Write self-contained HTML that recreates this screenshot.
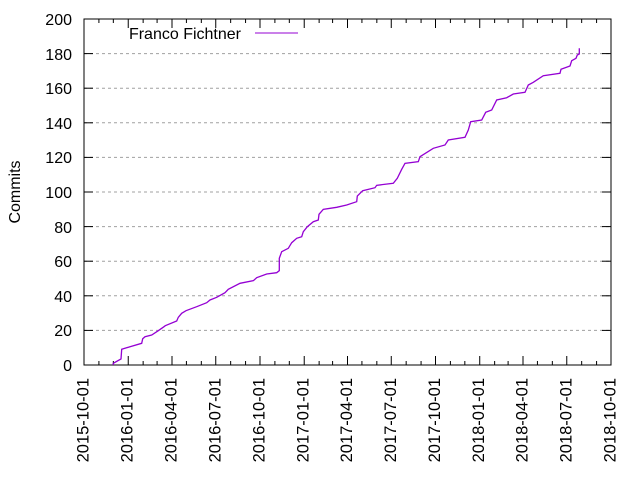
<!DOCTYPE html>
<html><head><meta charset="utf-8"><style>body{margin:0;background:#fff}svg{display:block}text{font-family:"Liberation Sans",sans-serif;font-size:16px;fill:#000}</style></head><body>
<svg width="640" height="480" viewBox="0 0 640 480">
<g stroke="#a0a0a0" stroke-dasharray="3,3" stroke-width="1">
<line x1="84" x2="611" y1="330.4" y2="330.4"/><line x1="84" x2="611" y1="295.8" y2="295.8"/><line x1="84" x2="611" y1="261.2" y2="261.2"/><line x1="84" x2="611" y1="226.6" y2="226.6"/><line x1="84" x2="611" y1="192" y2="192"/><line x1="84" x2="611" y1="157.4" y2="157.4"/><line x1="84" x2="611" y1="122.8" y2="122.8"/><line x1="84" x2="611" y1="88.2" y2="88.2"/><line x1="84" x2="611" y1="53.6" y2="53.6"/>
</g>
<rect x="84" y="19" width="527" height="346" fill="none" stroke="#000" stroke-width="1"/>
<g stroke="#000" stroke-width="1" id="ticks"></g>
<g text-anchor="end">
<text x="72" y="371">0</text><text x="72" y="336">20</text><text x="72" y="302">40</text><text x="72" y="267">60</text><text x="72" y="233">80</text><text x="72" y="198">100</text><text x="72" y="163">120</text><text x="72" y="129">140</text><text x="72" y="94">160</text><text x="72" y="60">180</text><text x="72" y="25">200</text>
</g>
<g id="xl" text-anchor="end"></g>
<text transform="translate(20,192) rotate(-90)" text-anchor="middle">Commits</text>
<text x="241" y="39" text-anchor="end">Franco Fichtner</text>
<line x1="255" x2="298" y1="33" y2="33" stroke="#9400d3" stroke-width="1"/>
<polyline fill="none" stroke="#9400d3" stroke-width="1.3" points="113.3,365 113.3,363.3 121,359 121.7,349.3 130,346.7 141.7,343.3 142.7,338.7 145,336.7 151.7,335 158.3,330.7 164,326.7 165.3,325.7 176.7,321 178.3,317.3 181.7,313.3 186,310.7 196.7,306.7 206.7,302.7 210,300 216.7,297.3 225,292.7 228.3,289.3 240,283.3 253.3,280.7 256.7,277.7 266.7,274 276.7,272.7 279.3,270.7 279.3,258.3 281.7,251.7 288.3,248.3 291.7,242.7 296.7,238.3 301.7,236.7 303.3,231.7 307.3,226.7 313.3,221.7 318.3,220 319,214.3 323.3,209.3 336.7,207.3 346.7,205 356.7,201.7 357.3,196 362.7,190.7 375,187.7 376.7,185.3 393.3,183.3 397.3,178.3 401.7,169.3 405,163.3 418.3,161.7 420,156.7 433.3,148.3 445,145 448.3,140 465,137.3 468.3,130 470.7,121.7 481.7,120 485.7,112.3 491.7,110 496.7,100 506.7,97.7 513.3,94 525,92.3 528.3,85 533.3,82.3 543.3,75.7 560,73.3 561,69.3 570,66 571.7,60.7 576,58.3 577.3,55 579.3,54 579.3,48.3"/>
</svg>
<script>
var ns="http://www.w3.org/2000/svg",t=document.getElementById("ticks"),xl=document.getElementById("xl");
var labels=["2015-10-01","2016-01-01","2016-04-01","2016-07-01","2016-10-01","2017-01-01","2017-04-01","2017-07-01","2017-10-01","2018-01-01","2018-04-01","2018-07-01","2018-10-01"];
var d0=Date.UTC(2015,9,1),ppd=527/(Date.UTC(2018,9,1)-d0)*864e5;
function X(y,m){return 84+(Date.UTC(y,m,1)-d0)/864e5*ppd;}
for(var i=0;i<=36;i++){var y=2015+Math.floor((9+i)/12),m=(9+i)%12,x=X(y,m),len=(i%3==0)?9:4;
 [[365,365-len],[19,19+len]].forEach(function(p){var l=document.createElementNS(ns,"line");l.setAttribute("x1",x);l.setAttribute("x2",x);l.setAttribute("y1",p[0]);l.setAttribute("y2",p[1]);t.appendChild(l);});
 if(i%3==0){var tx=document.createElementNS(ns,"text");tx.setAttribute("transform","translate("+(x+4.5)+",378) rotate(-90)");tx.setAttribute("style","font-size:16.5px");tx.textContent=labels[i/3];xl.appendChild(tx);}}
for(var v=0;v<=200;v+=20){var yy=365-v*1.73;[[84,93],[611,602]].forEach(function(p){var l=document.createElementNS(ns,"line");l.setAttribute("x1",p[0]);l.setAttribute("x2",p[1]);l.setAttribute("y1",yy);l.setAttribute("y2",yy);t.appendChild(l);});}
</script>
</body></html>
